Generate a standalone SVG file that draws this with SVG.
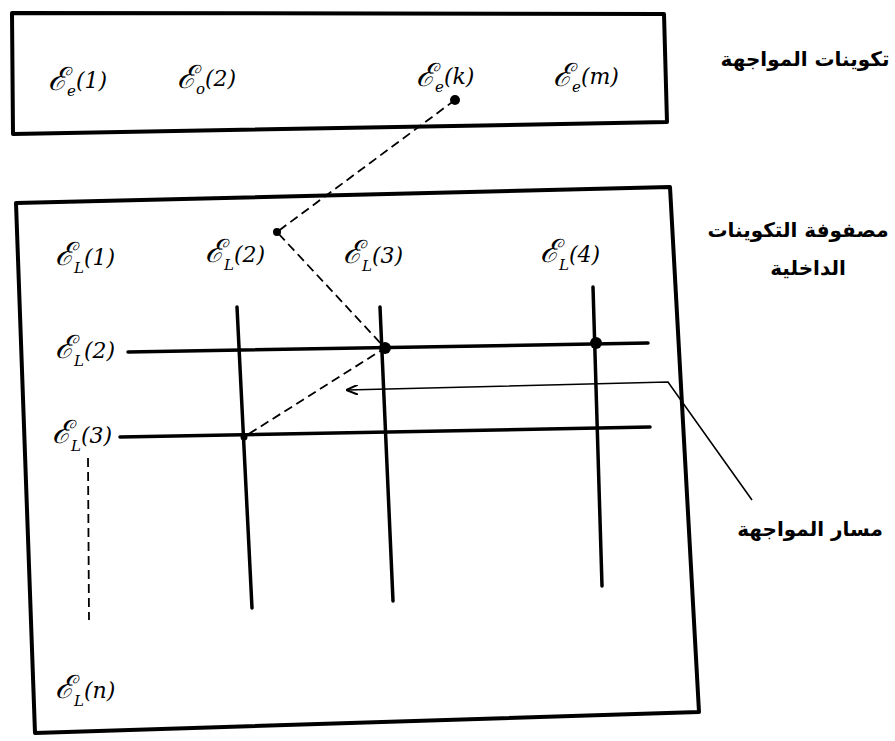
<svg xmlns="http://www.w3.org/2000/svg" width="895" height="741" viewBox="0 0 895 741">
<style>
.box{fill:none;stroke:#000;stroke-width:4;stroke-linejoin:round}
.grid{stroke:#000;stroke-width:3.5;stroke-linecap:round;fill:none}
.dash{stroke:#000;stroke-width:1.8;stroke-dasharray:9 5;fill:none}
.thin{stroke:#000;stroke-width:1.6;fill:none}
.sym{font-family:"DejaVu Serif",serif;font-size:32px;font-style:italic;fill:#000}
.sub{font-size:15px}
.par{font-size:22px}
.ar{font-family:"DejaVu Sans",sans-serif;font-weight:bold;font-size:20px;fill:#000}
</style>
<defs>
<marker id="ah" viewBox="0 0 12 10" refX="11" refY="5" markerWidth="12" markerHeight="10" markerUnits="userSpaceOnUse" orient="auto">
<path d="M0,0 L12,5 L0,10" fill="none" stroke="#000" stroke-width="2"/>
</marker>
</defs>
<rect width="895" height="741" fill="#fff"/>
<g id="top-box">
<path class="box" d="M12,13 L664,14 L667,122 L13,134 Z"/>
<text class="sym" x="48" y="90">ℰ<tspan class="sub" dy="6">e</tspan><tspan class="par" dy="-8">(1)</tspan></text>
<text class="sym" x="177" y="88">ℰ<tspan class="sub" dy="6">o</tspan><tspan class="par" dy="-8">(2)</tspan></text>
<text class="sym" x="416" y="86">ℰ<tspan class="sub" dy="6">e</tspan><tspan class="par" dy="-8">(k)</tspan></text>
<text class="sym" x="553" y="86">ℰ<tspan class="sub" dy="6">e</tspan><tspan class="par" dy="-8">(m)</tspan></text>
</g>
<g id="top-label">
<text class="ar" x="805" y="66" text-anchor="middle" direction="rtl">تكوينات المواجهة</text>
</g>
<g id="matrix-box">
<path class="box" d="M16,203 L670,187 L699,712 L35,733 Z"/>
</g>
<g id="matrix-label">
<text class="ar" x="798" y="237" text-anchor="middle" direction="rtl">مصفوفة التكوينات</text>
<text class="ar" x="808" y="275" text-anchor="middle" direction="rtl">الداخلية</text>
</g>
<g id="column-labels">
<text class="sym" x="55" y="265">ℰ<tspan class="sub" dy="8">L</tspan><tspan class="par" dy="-8">(1)</tspan></text>
<text class="sym" x="205" y="262">ℰ<tspan class="sub" dy="8">L</tspan><tspan class="par" dy="-8">(2)</tspan></text>
<text class="sym" x="343" y="263">ℰ<tspan class="sub" dy="8">L</tspan><tspan class="par" dy="-8">(3)</tspan></text>
<text class="sym" x="540" y="262">ℰ<tspan class="sub" dy="8">L</tspan><tspan class="par" dy="-8">(4)</tspan></text>
</g>
<g id="row-labels">
<text class="sym" x="55" y="358">ℰ<tspan class="sub" dy="8">L</tspan><tspan class="par" dy="-8">(2)</tspan></text>
<text class="sym" x="52" y="443">ℰ<tspan class="sub" dy="8">L</tspan><tspan class="par" dy="-8">(3)</tspan></text>
<text class="sym" x="55" y="698">ℰ<tspan class="sub" dy="8">L</tspan><tspan class="par" dy="-8">(n)</tspan></text>
</g>
<g id="grid">
<line class="grid" x1="128" y1="352" x2="648" y2="343"/>
<line class="grid" x1="120" y1="437" x2="650" y2="427"/>
<line class="grid" x1="237" y1="307" x2="252" y2="608"/>
<line class="grid" x1="380" y1="307" x2="393" y2="601"/>
<line class="grid" x1="593" y1="287" x2="602" y2="586"/>
</g>
<g id="connectors">
<path class="dash" d="M455,100 L277,232 L385,348 L244,437"/>
<line class="dash" x1="88" y1="458" x2="89" y2="620" stroke-dasharray="6 8"/>
<path class="thin" d="M752,500 L668,382 L347,390" marker-end="url(#ah)"/>
</g>
<g id="dots">
<circle cx="455" cy="100" r="5"/>
<circle cx="277" cy="232" r="4"/>
<circle cx="385" cy="348" r="6"/>
<circle cx="596" cy="343" r="6"/>
<circle cx="244" cy="437" r="3.5"/>
</g>
<g id="path-label">
<text class="ar" x="810" y="536" text-anchor="middle" direction="rtl">مسار المواجهة</text>
</g>
</svg>
